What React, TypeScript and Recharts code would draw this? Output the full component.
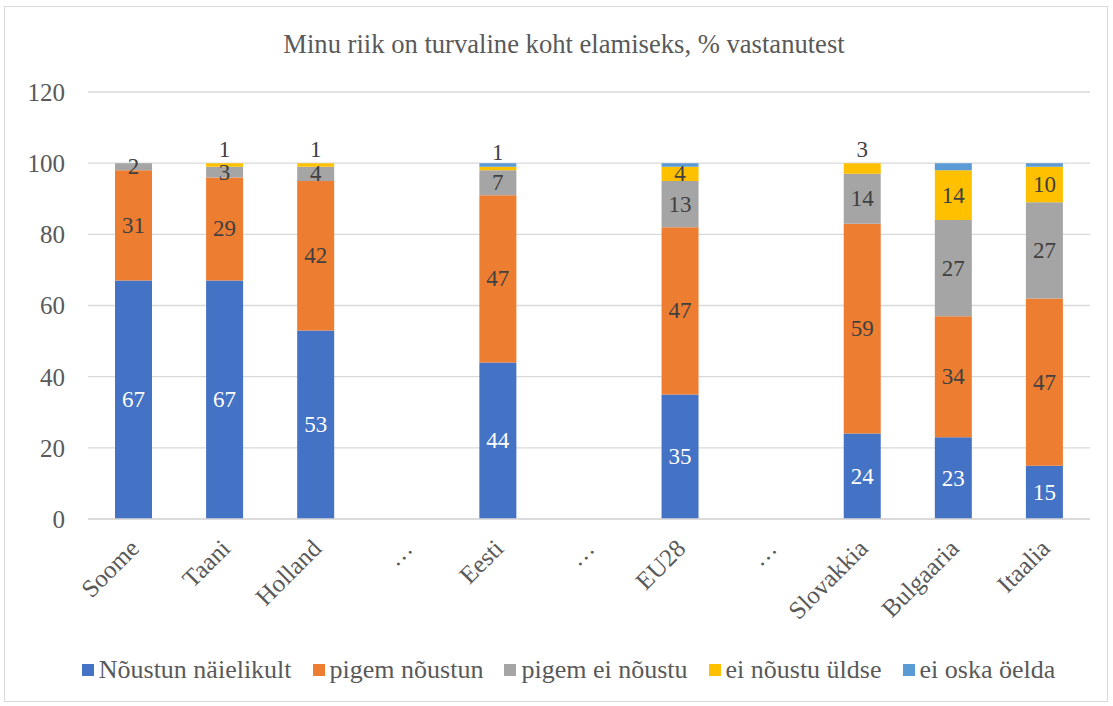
import React from 'react';
import { BarChart, Bar, XAxis, YAxis, CartesianGrid, Legend, LabelList } from 'recharts';

const categories = ['Soome', 'Taani', 'Holland', '…', 'Eesti', '…', 'EU28', '…', 'Slovakkia', 'Bulgaaria', 'Itaalia'];
const nousNaielikult = [67, 67, 53, null, 44, null, 35, null, 24, 23, 15];
const pigemNoustun = [31, 29, 42, null, 47, null, 47, null, 59, 34, 47];
const pigemEiNoustu = [2, 3, 4, null, 7, null, 13, null, 14, 27, 27];
const eiNoustuUldse = [0, 1, 1, null, 1, null, 4, null, 3, 14, 10];
const eiOskaOelda = [0, 0, 0, null, 1, null, 1, null, 0, 2, 1];
const yTicks = [0, 20, 40, 60, 80, 100, 120];

const seriesNames = ['Nõustun näielikult', 'pigem nõustun', 'pigem ei nõustu', 'ei nõustu üldse', 'ei oska öelda'];
const colors = ['#4472C4', '#ED7D31', '#A5A5A5', '#FFC000', '#5B9BD5'];

const data = categories.map((c, i) => ({
  id: `${c}-${i}`,
  name: c,
  a: nousNaielikult[i],
  b: pigemNoustun[i],
  c: pigemEiNoustu[i],
  d: eiNoustuUldse[i],
  e: eiOskaOelda[i],
}));

const FONT = '"Liberation Serif", "Times New Roman", serif';

const makeLabel = (fill: string, aboveSmall: boolean) => (props: any) => {
  const { x, y, width, height, value } = props;
  if (value === null || value === undefined || value === 0) return null;
  const cx = Number(x) + Number(width) / 2;
  let cy = Number(y) + Number(height) / 2;
  if (aboveSmall && value < 4) {
    cy = Number(y) - 14;
  }
  return (
    <text x={cx} y={cy} textAnchor="middle" dominantBaseline="central" fill={fill} fontSize={23} fontFamily={FONT}>
      {value}
    </text>
  );
};

const XTick = (props: any) => {
  const { x, y, index } = props;
  const label = data[index] ? data[index].name : '';
  return (
    <g transform={`translate(${x + 7},${y + 31})`}>
      <text x={0} y={0} textAnchor="end" transform="rotate(-45)" fill="#595959" fontSize={25} fontFamily={FONT}>
        {label}
      </text>
    </g>
  );
};

const LegendContent = () => (
  <div style={{ display: 'flex', justifyContent: 'center', fontFamily: FONT, fontSize: 26, color: '#595959', height: 34, alignItems: 'center', paddingLeft: 42, whiteSpace: 'nowrap' }}>
    {seriesNames.map((n, i) => (
      <div key={n} style={{ display: 'flex', alignItems: 'center', marginRight: i < seriesNames.length - 1 ? 21 : 0 }}>
        <span style={{ display: 'inline-block', width: 12, height: 12, background: colors[i], marginRight: 5 }} />
        <span>{n}</span>
      </div>
    ))}
  </div>
);

export default function App() {
  return (
    <div style={{ position: 'absolute', left: 4, top: 6, width: 1104, height: 696, border: '1px solid #d9d9d9', boxSizing: 'border-box', background: '#fff' }}>
      <div style={{ position: 'absolute', left: 0, width: 1102, top: 22, paddingLeft: 16, boxSizing: 'border-box', textAlign: 'center', fontFamily: FONT, fontSize: 26.6, lineHeight: '30px', color: '#595959' }}>
        Minu riik on turvaline koht elamiseks, % vastanutest
      </div>
      <BarChart width={1102} height={694} data={data} margin={{ top: 85, right: 17, bottom: 14, left: 0 }} barSize={37}>
        <CartesianGrid vertical={false} stroke="#d9d9d9" strokeWidth={1.3} />
        <XAxis dataKey="id" tick={(p: any) => <XTick {...p} />} interval={0} height={134} axisLine={{ stroke: '#d9d9d9', strokeWidth: 1.3 }} tickLine={false} tickSize={0} tickMargin={0} />
        <YAxis domain={[0, 120]} ticks={yTicks} width={83} axisLine={false} tickLine={false} tickSize={0} tickMargin={23} tick={{ fill: '#595959', fontSize: 25, fontFamily: FONT }} />
        <Legend verticalAlign="bottom" content={<LegendContent />} />
        <Bar dataKey="a" stackId="s" fill={colors[0]} name={seriesNames[0]} isAnimationActive={false}>
          <LabelList dataKey="a" content={makeLabel('#ffffff', false)} />
        </Bar>
        <Bar dataKey="b" stackId="s" fill={colors[1]} name={seriesNames[1]} isAnimationActive={false}>
          <LabelList dataKey="b" content={makeLabel('#404040', false)} />
        </Bar>
        <Bar dataKey="c" stackId="s" fill={colors[2]} name={seriesNames[2]} isAnimationActive={false}>
          <LabelList dataKey="c" content={makeLabel('#404040', false)} />
        </Bar>
        <Bar dataKey="d" stackId="s" fill={colors[3]} name={seriesNames[3]} isAnimationActive={false}>
          <LabelList dataKey="d" content={makeLabel('#404040', true)} />
        </Bar>
        <Bar dataKey="e" stackId="s" fill={colors[4]} name={seriesNames[4]} isAnimationActive={false} />
      </BarChart>
    </div>
  );
}
